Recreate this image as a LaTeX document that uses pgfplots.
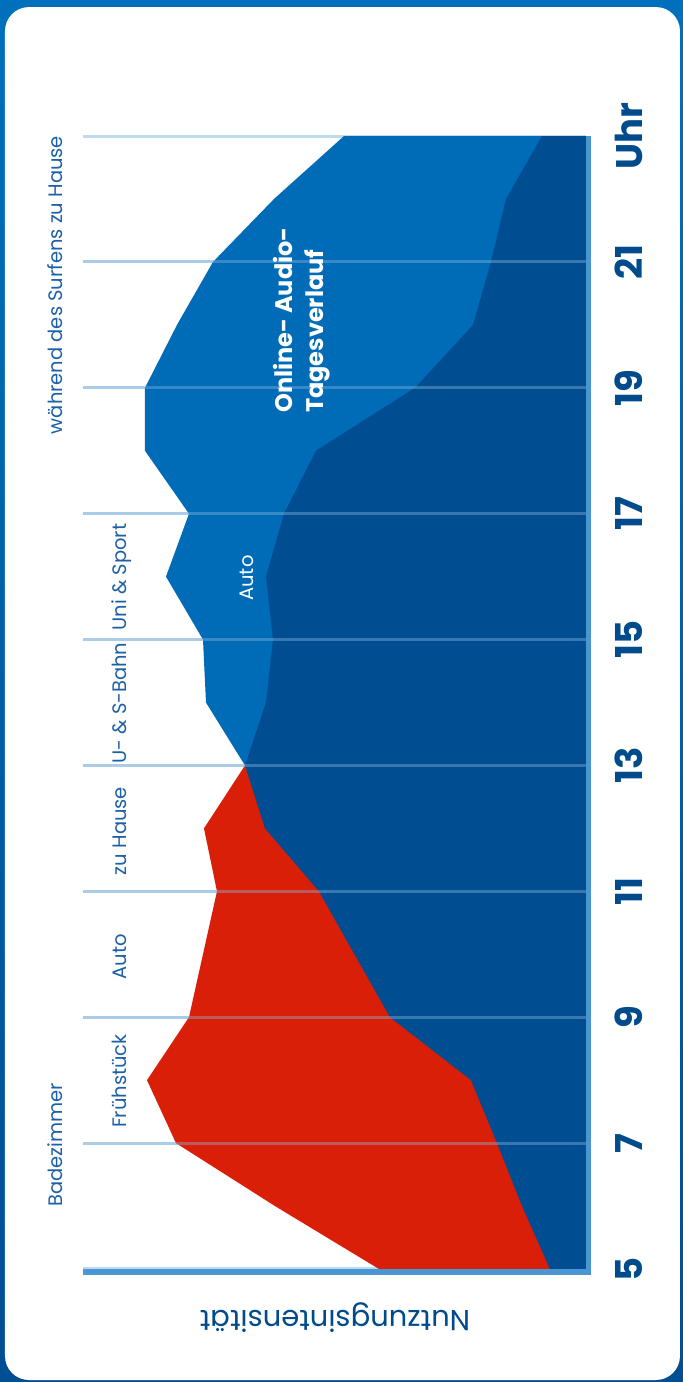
\documentclass[border=0pt]{standalone}
\usepackage{pgfplots}
\pgfplotsset{compat=1.18}
\usetikzlibrary{backgrounds,calc}
\usepackage{fontspec}
\setmainfont{Poppins}

\definecolor{framebl}{RGB}{0,112,188}
\definecolor{framedk}{RGB}{0,78,148}
\definecolor{darkbl}{RGB}{0,77,145}
\definecolor{midbl}{RGB}{0,108,183}
\definecolor{redc}{RGB}{218,31,8}
\definecolor{gridc}{RGB}{190,218,238}
\definecolor{gridtop}{RGB}{140,185,225}
\definecolor{axisc}{RGB}{74,150,210}
\definecolor{navy}{RGB}{0,75,140}
\definecolor{annot}{RGB}{28,96,168}

\begin{document}
\begin{tikzpicture}[x=1pt,y=1pt]
\begin{axis}[
  scale only axis, width=503pt, height=1133pt,
  xmin=0, xmax=503, x dir=reverse,
  ymin=5, ymax=23,
  xtick=\empty,
  ytick={5,7,...,23},
  yticklabels={5,7,9,11,13,15,17,19,21,Uhr},
  yticklabel pos=right,
  yticklabel style={rotate=90, anchor=north, inner sep=0pt,
    font=\fontsize{37}{37}\selectfont\bfseries, text=navy},
  yticklabel shift=29pt,
  tick style={draw=none},
  axis line style={draw=none},
  ymajorgrids,
  grid style={gridc, line width=3pt},
  clip=false,
]
% page corners in axis units (1 unit = 1pt across, 62.94pt per hour)
\coordinate (BL) at (axis cs:586,3.2046);
\coordinate (TR) at (axis cs:-97,25.162);
% morning curve (red), drawn first
\addplot[fill=redc, draw=none] coordinates {
  (0,5) (207,5) (311,6) (410,7) (439,8) (397,9) (369,11) (382,12) (341,13) (0,13)
} -- cycle;
% evening curve (medium blue)
\addplot[fill=midbl, draw=none] coordinates {
  (0,13) (341,13) (380,14) (383,15) (420,16) (397,17) (441,18) (441,19)
  (409,20) (373,21) (312,22) (242,23) (0,23)
} -- cycle;
% base curve (dark blue)
\addplot[fill=darkbl, draw=none] coordinates {
  (0,5) (36,5) (64,6) (89,7) (115,8) (196,9) (267,11) (321,12) (341,13)
  (320,14) (313,15) (320,16) (302,17) (270,18) (171,19) (113,20) (95,21)
  (80,22) (44,23) (0,23)
} -- cycle;
\pgfplotsinvokeforeach{7,9,11,13,15,17,19,21}{
  \draw[gridtop, opacity=0.4, line width=3pt] (axis cs:0,#1) -- (axis cs:503,#1);
}
\end{axis}

\begin{scope}[on background layer]
\shade[top color=framebl, bottom color=framedk] (BL) rectangle (TR);
\fill[white, rounded corners=24pt] ($(BL)+(5,2)$) rectangle ($(BL)+(680,1375)$);
\end{scope}

% axis lines
\draw[axisc, line width=6pt] ($(BL)+(83,110.5)$) -- ($(BL)+(591,110.5)$);
\draw[axisc, line width=5pt] ($(BL)+(588.5,107.5)$) -- ($(BL)+(588.5,1246)$);

\node[rotate=180, anchor=base, text=navy, font=\fontsize{29}{32}\selectfont] at ($(BL)+(335,72)$) {Nutzungsintensität};

\begin{scope}[every node/.style={rotate=90, anchor=base, text=annot, font=\fontsize{19.5}{24}\selectfont}]
\node at ($(BL)+(63,237)$) {Badezimmer};
\node at ($(BL)+(127,301)$) {Frühstück};
\node at ($(BL)+(127,425)$) {Auto};
\node at ($(BL)+(127,551)$) {zu Hause};
\node at ($(BL)+(127,679)$) {U- \& S-Bahn};
\node at ($(BL)+(127,805)$) {Uni \& Sport};
\node at ($(BL)+(63,1097)$) {während des Surfens zu Hause};
\end{scope}
\node[rotate=90, anchor=base, text=white, font=\fontsize{19.5}{24}\selectfont] at ($(BL)+(254,804)$) {Auto};
\node[rotate=90, anchor=base west, inner sep=0pt, text=white, font=\fontsize{24}{28}\selectfont\bfseries] at ($(BL)+(293,969)$) {Online- Audio-};
\node[rotate=90, anchor=base west, inner sep=0pt, text=white, font=\fontsize{24}{28}\selectfont\bfseries] at ($(BL)+(324,969)$) {Tagesverlauf};
\end{tikzpicture}
\end{document}
